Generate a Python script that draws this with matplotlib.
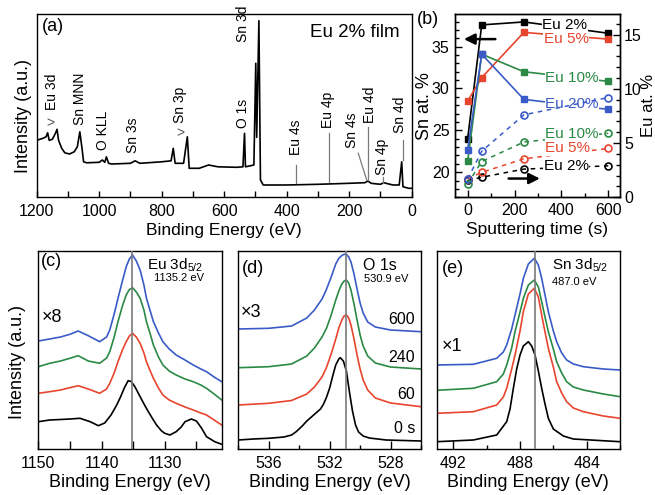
import matplotlib
matplotlib.use("Agg")
import matplotlib.pyplot as plt
from matplotlib.ticker import MultipleLocator

plt.rcParams["font.family"] = ["Liberation Sans", "DejaVu Sans"]
plt.rcParams.update({
    "axes.linewidth": 1.0,
    "xtick.direction": "in",
    "ytick.direction": "in",
    "xtick.major.width": 1.0,
    "ytick.major.width": 1.0,
    "xtick.minor.width": 1.0,
    "ytick.minor.width": 1.0,
    "xtick.labelsize": 11.5,
    "ytick.labelsize": 11.5,
})

RED = "#E8452E"
GREEN = "#2A8A45"
BLUE = "#3A5BC7"
GRAY = "#7a7a7a"

# ---------------- (a) survey spectrum ----------------
SURVEY_E = [1200, 1190, 1180, 1170, 1165, 1160, 1150, 1140, 1135, 1130, 1120, 1110, 1095,
            1080, 1070, 1062, 1055, 1050, 1040, 1000, 990, 982, 977, 970, 960, 900, 885,
            870, 800, 770, 763, 757, 730, 718, 712, 680, 650, 620, 560, 540, 535, 532,
            505, 499, 496, 489, 484, 475, 400, 300, 200, 150, 140, 130, 100, 90, 60, 40,
            32, 28, 10, 0]
SURVEY_I = [57, 58, 59, 60.5, 64.5, 57, 58, 64, 68, 57, 49, 44.5, 43.3,
            45.5, 50.5, 65.5, 49, 35.5, 34.5, 35, 37.3, 35, 40.5, 34, 33.3, 34, 36.5,
            34, 35.5, 36.5, 49, 34, 34, 60.5, 29, 29, 32.3, 30.5, 30, 30.5, 64, 30.5,
            32.3, 134, 60, 176.5, 17.3, 12.3, 12.3, 13, 14, 14.6, 16.3, 14, 13, 14.6, 12.3, 12.3,
            35.5, 10.6, 9, 9]

# label, energy, bottom of text (intensity)
SURVEY_LABELS = [
    ("Eu 3d", 1152, 87), ("Sn MNN", 1061, 72), ("O KLL", 989, 47), ("Sn 3s", 892, 44),
    ("Sn 3p", 741, 74), ("O 1s", 541, 69), ("Sn 3d", 541, 155), ("Eu 4s", 370, 42),
    ("Eu 4p", 268, 69), ("Sn 4s", 192, 49), ("Eu 4d", 133, 74), ("Sn 4p", 96, 22),
    ("Sn 4d", 37, 64),
]
# leader lines: (E_top, I_top, E_bottom, I_bottom)
SURVEY_LEADERS = [
    (370, 32, 370, 14), (264, 64, 264, 15.6), (171, 44, 144, 17.3),
    (139, 70.6, 139, 17.3), (93, 20.6, 93, 14.6), (29, 57.3, 29, 37.3),
]

# ---------------- (b) depth profile ----------------
TIME = [0, 60, 240, 600]
SN_FRACTION = {
    "Eu 2%": [24.0, 37.6, 37.95, 36.6],
    "Eu 5%": [28.5, 31.3, 36.7, 35.9],
    "Eu 10%": [21.3, 34.1, 32.0, 30.85],
    "Eu 20%": [22.7, 34.1, 28.7, 27.5],
}
EU_FRACTION = {
    "Eu 2%": [1.55, 1.85, 2.6, 2.9],
    "Eu 5%": [1.7, 2.3, 3.55, 4.5],
    "Eu 10%": [1.25, 3.3, 5.1, 5.9],
    "Eu 20%": [1.7, 4.25, 7.6, 9.2],
}
SERIES_COLORS = {"Eu 2%": "black", "Eu 5%": RED, "Eu 10%": GREEN, "Eu 20%": BLUE}
SN_LABEL_POS = {"Eu 2%": (415, 37.6), "Eu 5%": (420, 35.9), "Eu 10%": (445, 31.3), "Eu 20%": (445, 28.1)}
EU_LABEL_POS = {"Eu 10%": (445, 5.85), "Eu 5%": (428, 4.52), "Eu 2%": (420, 2.86)}

# ---------------- (c) Eu 3d5/2 ----------------
C_BLACK_E = [1150, 1148.2, 1146.5, 1145, 1143.4, 1141.8, 1140.5, 1139.5, 1138.5, 1137.6, 1137,
             1136.4, 1135.8, 1135.3, 1134.7, 1133.9, 1133.2, 1132.6, 1131.9, 1131.3, 1130.5,
             1130, 1129.2, 1128.2, 1127.4, 1126.8, 1125.8, 1125, 1124.2, 1123.4, 1122.1, 1121]
C_BLACK_I = [27.3, 29, 29.5, 30, 30.7, 27.3, 23.3, 26, 34, 44, 52,
             61, 68.3, 67.5, 62, 52.3, 44, 37.3, 30, 24, 18,
             15.7, 14, 17.3, 22, 27.3, 30, 28, 21, 12.3, 7.3, 4.7]
C_COLOR_E = [1150, 1148.2, 1146.5, 1145, 1143.7, 1142.1, 1140.3, 1139.2, 1138.7, 1138, 1137.4,
             1136.7, 1136.1, 1135.6, 1135.1, 1134.5, 1133.9, 1133.3, 1132.9, 1132.3, 1131.8,
             1131, 1130.3, 1129.3, 1128.2, 1126.8, 1125.5, 1124.3, 1123.4, 1122.2, 1121]
C_RED_I = [55.7, 57.3, 59, 61.3, 63.3, 60, 55.7, 60, 65.7, 76, 87.3,
           99, 107.3, 113, 115.7, 112, 105.7, 96, 87.3, 78, 70.7,
           61, 54, 49, 45.7, 42, 39, 36, 34, 29, 24]
C_GREEN_I = [82.3, 85.7, 88, 90.7, 93.3, 88, 85.7, 91, 97.3, 112, 127.3,
             143, 154, 159.5, 161.3, 157, 150.7, 139, 127.3, 115, 104,
             92, 84, 78, 74, 70, 67.3, 64, 60.7, 55, 49]
C_BLUE_I = [108, 110, 112, 114.7, 118, 113.3, 107.3, 112, 119, 135, 150.7,
            168, 182.3, 190, 194, 188, 179, 164, 150.7, 138, 127.3,
            116, 107.3, 100, 94, 89, 84, 80, 77.3, 72, 67.3]

# ---------------- (d) O 1s ----------------
D_BLACK_E = [538, 537, 536, 535, 534.5, 534.2, 533.8, 533.5, 533.2, 532.9, 532.6, 532.4, 532.2,
             532, 531.8, 531.6, 531.4, 531.3, 531.1, 530.9, 530.7, 530.5, 530.3, 530.1, 529.8,
             529.4, 528.3, 526]
D_BLACK_I = [9, 10, 10.7, 12, 14, 17.3, 23, 28, 32, 36, 40, 45, 52,
             61, 73, 84, 90, 91.3, 88, 78, 57, 38, 24, 17, 13,
             11, 9, 8]
D_COLOR_E = [538, 536, 534.5, 533.5, 533, 532.5, 532.2, 531.9, 531.6, 531.4, 531.2, 531.05,
             530.9, 530.75, 530.6, 530.4, 530.2, 530, 529.8, 529.5, 529, 528, 526]
D_RED_I = [44, 45.7, 48.5, 55, 62, 72, 82, 95, 110, 121, 129, 133,
           134, 131, 124, 110, 94, 80, 69, 59, 51, 46, 42.3]
D_GREEN_I = [81.3, 82.3, 85, 93, 101, 112, 121, 134, 149, 158, 165, 168,
             169, 166, 159, 145, 129, 114, 103, 93, 86, 82, 80]
D_BLUE_I = [120, 120.7, 123, 131, 139, 150, 160, 172, 185, 190.5, 193.5, 194.7,
            194.7, 192, 187, 175, 160, 146, 136, 127, 122, 119, 117.3]
D_TIMES = ["600", "240", "60", "0 s"]
D_TIME_Y = [0.652, 0.461, 0.273, 0.105]

# ---------------- (e) Sn 3d5/2 ----------------
E_BLACK_E = [493, 490.8, 489.4, 488.8, 488.6, 488.4, 488.2, 488, 487.8, 487.5, 487.3, 487.1,
             486.9, 486.7, 486.5, 486.3, 486, 485.4, 484.8, 482]
E_BLACK_I = [7.3, 9, 14, 27.3, 40, 60.7, 80, 94, 103, 107.3, 103, 94,
             78, 60.7, 45, 30.7, 20, 13, 10, 7.3]
E_COLOR_E = [493, 490.8, 489.4, 489, 488.8, 488.5, 488.3, 488, 487.8, 487.5, 487.14, 486.9,
             486.7, 486.5, 486.3, 486, 485.8, 485.5, 485.2, 484.8, 484.2, 483, 482]
E_RED_I = [35.7, 37.3, 44, 52, 60.7, 80, 94, 118, 137.3, 155, 160.7, 152,
           134, 117, 100.7, 82, 67.3, 56, 47.3, 41, 37.3, 33, 30.7]
E_GREEN_I = [58.7, 60.7, 67.3, 75, 84, 101, 117.3, 137, 150.7, 164, 169, 162,
             147.3, 132, 117.3, 100, 87.3, 76, 67.3, 62, 59, 55, 52.3]
E_BLUE_I = [84, 84.7, 90.7, 97, 104, 120, 134, 155, 170.7, 185, 190.7, 184,
            170.7, 154, 137.3, 118, 107.3, 96, 89, 85, 82.3, 80, 79]

W, H = 655, 495


def rect(l, t, r, b):
    return [l / W, 1 - b / H, (r - l) / W, (b - t) / H]


def spectrum_axes(fig, box, xlim, major, minor, minor_len):
    ax = fig.add_axes(rect(*box))
    ax.set_xlim(*xlim)
    ax.set_ylim(0, 198)
    ax.set_yticks([])
    ax.xaxis.set_major_locator(MultipleLocator(major))
    ax.xaxis.set_minor_locator(MultipleLocator(minor))
    ax.tick_params(axis="x", which="major", length=6, pad=5)
    ax.tick_params(axis="x", which="minor", length=minor_len)
    ax.set_xlabel("Binding Energy (eV)", fontsize=13, labelpad=2)
    return ax


def draw_set(ax, e_black, i_black, e_color, reds, greens, blues):
    ax.plot(e_black, i_black, color="black", lw=1.2)
    ax.plot(e_color, reds, color=RED, lw=1.2)
    ax.plot(e_color, greens, color=GREEN, lw=1.2)
    ax.plot(e_color, blues, color=BLUE, lw=1.2)


fig = plt.figure(figsize=(W / 100, H / 100), dpi=100)

# ----- (a)
ax_a = fig.add_axes(rect(36.7, 14, 411.7, 197.3))
ax_a.plot(SURVEY_E, SURVEY_I, color="black", lw=1.2)
ax_a.set_xlim(1200, 0)
ax_a.set_ylim(0, 183.3)
ax_a.set_yticks([])
ax_a.xaxis.set_major_locator(MultipleLocator(200))
ax_a.xaxis.set_minor_locator(MultipleLocator(100))
ax_a.tick_params(axis="x", which="both", length=4, pad=5)
ax_a.set_xlabel("Binding Energy (eV)", fontsize=12.5, labelpad=3)
for label, energy, bottom in SURVEY_LABELS:
    ax_a.text(energy, bottom, label, rotation=90, ha="center", va="bottom", fontsize=10)
for e0, i0, e1, i1 in SURVEY_LEADERS:
    ax_a.plot([e0, e1], [i0, i1], color=GRAY, lw=0.9)
ax_a.text(1155, 74, ">", ha="center", va="center", fontsize=10, color="#555555")
ax_a.text(741, 64, ">", ha="center", va="center", fontsize=10, color="#555555")
ax_a.text(0.014, 0.93, "(a)", transform=ax_a.transAxes, fontsize=13, va="center")
ax_a.text(0.968, 0.9, "Eu 2% film", transform=ax_a.transAxes, fontsize=13.5, ha="right", va="center")
fig.text(24 / W, 1 - 116 / H, "Intensity (a.u.)", rotation=90, fontsize=13, ha="center", va="center")

# ----- (b)
ax_b = fig.add_axes(rect(455, 14, 620, 197.3))
ax_b2 = ax_b.twinx()
for name, vals in SN_FRACTION.items():
    ax_b.plot(TIME, vals, color=SERIES_COLORS[name], lw=1.2, marker="s", ms=4.6, zorder=3)
for name, vals in EU_FRACTION.items():
    ax_b2.plot(TIME, vals, color=SERIES_COLORS[name], lw=1.1, ls=(0, (3, 3)), marker="o", ms=5,
               mfc="none", mew=1.2, zorder=3)
for name, (t, v) in SN_LABEL_POS.items():
    ax_b.text(t, v, name, color=SERIES_COLORS[name], fontsize=11, ha="center", va="center", zorder=5,
              bbox=dict(fc="white", ec="none", pad=0.3))
for name, (t, v) in EU_LABEL_POS.items():
    ax_b2.text(t, v, name, color=SERIES_COLORS[name], fontsize=11, ha="center", va="center", zorder=5,
               bbox=dict(fc="white", ec="none", pad=0.3))
ax_b.set_xlim(-54, 650)
ax_b.set_ylim(17, 38.9)
ax_b2.set_ylim(0, 16.9)
ax_b.set_xticks([0, 200, 400, 600])
ax_b.xaxis.set_minor_locator(MultipleLocator(100))
ax_b.set_yticks([20, 25, 30, 35])
ax_b.yaxis.set_minor_locator(MultipleLocator(1))
ax_b2.set_yticks([0, 5, 10, 15])
ax_b2.yaxis.set_minor_locator(MultipleLocator(1))
ax_b.tick_params(which="major", length=5, pad=4)
ax_b.tick_params(which="minor", length=3)
ax_b2.tick_params(which="major", length=5, pad=3)
ax_b2.tick_params(which="minor", length=3)
ax_b.set_xlabel("Sputtering time (s)", fontsize=12.5, labelpad=3)
ax_b.set_ylabel("Sn at. %", fontsize=13, labelpad=-1)
ax_b2.set_ylabel("Eu at. %", fontsize=12, labelpad=-1)
ax_b.annotate("", xy=(-28, 35.9), xytext=(130, 35.9),
              arrowprops=dict(arrowstyle="-|>", lw=1.8, color="black", mutation_scale=16), zorder=6)
ax_b2.annotate("", xy=(320, 1.73), xytext=(163, 1.73),
               arrowprops=dict(arrowstyle="-|>", lw=1.8, color="black", mutation_scale=16), zorder=6)
fig.text(417 / W, 1 - 20 / H, "(b)", fontsize=13, ha="left", va="center")

# ----- (c)
ax_c = spectrum_axes(fig, (38.3, 251, 221.7, 449), (1150, 1121), 10, 5, 6)
draw_set(ax_c, C_BLACK_E, C_BLACK_I, C_COLOR_E, C_RED_I, C_GREEN_I, C_BLUE_I)
ax_c.axvline(1135.2, color=GRAY, lw=1.2, zorder=5)
ax_c.text(0.012, 0.946, "(c)", transform=ax_c.transAxes, fontsize=13, va="center")
ax_c.text(0.593, 0.929, r"Eu 3d$_{\mathregular{5/2}}$", transform=ax_c.transAxes, fontsize=11, va="center")
ax_c.text(0.63, 0.862, "1135.2 eV", transform=ax_c.transAxes, fontsize=8, va="center")
ax_c.text(0.02, 0.662, "×8", transform=ax_c.transAxes, fontsize=13, va="center")
fig.text(18 / W, 1 - 362 / H, "Intensity (a.u.)", rotation=90, fontsize=13, ha="center", va="center")

# ----- (d)
ax_d = spectrum_axes(fig, (238.3, 251, 421, 449), (538, 526), 4, 2, 3)
draw_set(ax_d, D_BLACK_E, D_BLACK_I, D_COLOR_E, D_RED_I, D_GREEN_I, D_BLUE_I)
ax_d.axvline(530.9, color=GRAY, lw=1.2, zorder=5)
ax_d.text(0.019, 0.913, "(d)", transform=ax_d.transAxes, fontsize=13, va="center")
ax_d.text(0.683, 0.929, "O 1s", transform=ax_d.transAxes, fontsize=11.5, va="center")
ax_d.text(0.687, 0.859, "530.9 eV", transform=ax_d.transAxes, fontsize=8, va="center")
ax_d.text(0.012, 0.687, "×3", transform=ax_d.transAxes, fontsize=13, va="center")
for label, y in zip(D_TIMES, D_TIME_Y):
    ax_d.text(0.967, y, label, transform=ax_d.transAxes, fontsize=11.5, ha="right", va="center")

# ----- (e)
ax_e = spectrum_axes(fig, (436.7, 251, 620, 449), (493, 482), 4, 2, 3)
draw_set(ax_e, E_BLACK_E, E_BLACK_I, E_COLOR_E, E_RED_I, E_GREEN_I, E_BLUE_I)
ax_e.axvline(487.1, color=GRAY, lw=1.2, zorder=5)
ax_e.text(0.029, 0.914, "(e)", transform=ax_e.transAxes, fontsize=13, va="center")
ax_e.text(0.627, 0.929, r"Sn 3d$_{\mathregular{5/2}}$", transform=ax_e.transAxes, fontsize=11, va="center")
ax_e.text(0.627, 0.845, "487.0 eV", transform=ax_e.transAxes, fontsize=8, va="center")
ax_e.text(0.029, 0.517, "×1", transform=ax_e.transAxes, fontsize=13, va="center")

fig.savefig("out.png", dpi=100)
